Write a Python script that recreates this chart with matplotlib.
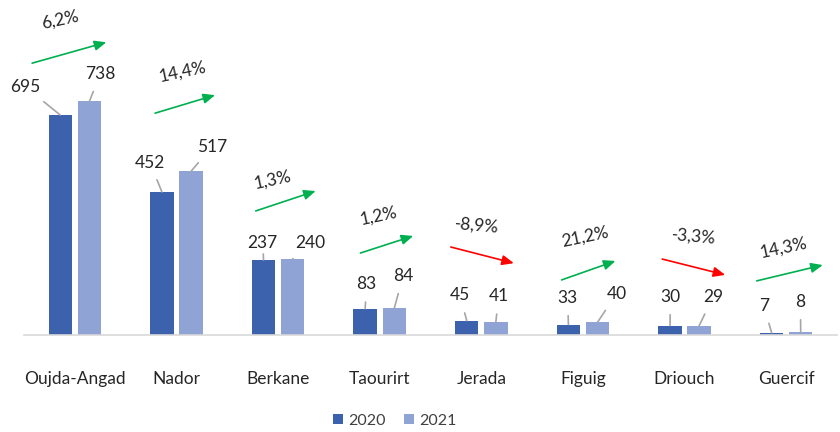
import matplotlib
matplotlib.use("Agg")
import matplotlib.pyplot as plt
import numpy as np

plt.rcParams['font.family'] = ['Lato', 'DejaVu Sans']

categories = ["Oujda-Angad", "Nador", "Berkane", "Taourirt", "Jerada", "Figuig", "Driouch", "Guercif"]
values_2020 = [695, 452, 237, 83, 45, 33, 30, 7]
values_2021 = [738, 517, 240, 84, 41, 40, 29, 8]
series_names = ["2020", "2021"]

# layout (offsets relative to group centre, in category / data units)
lbl20_off = [(-0.49, 785), (-0.26, 545), (-0.15, 290), (-0.13, 160), (-0.21, 125), (-0.15, 117), (-0.14, 120), (-0.22, 92)]
lbl21_off = [(0.25, 824), (0.35, 595), (0.32, 290), (0.23, 186), (0.17, 122), (0.33, 130), (0.28, 120), (0.14, 104)]
arrow_start = [(-0.42, 859), (-0.21, 701), (-0.22, 392), (-0.19, 259), (-0.30, 278), (-0.21, 174), (-0.22, 240), (-0.29, 171)]
arrow_end = [(0.31, 925), (0.38, 758), (0.37, 455), (0.33, 313), (0.32, 227), (0.32, 234), (0.40, 190), (0.36, 221)]
pct_pos = [(-0.15, 995), (0.06, 831), (-0.05, 490), (-0.01, 376), (-0.05, 347), (0.02, 310), (0.09, 310), (-0.03, 275)]

c20 = "#3C62AD"
c21 = "#8FA3D5"
txtc = "#262626"

fig = plt.figure(figsize=(8.4, 4.32), dpi=100)
ax = fig.add_axes([24/840, (432-335)/432, (837-24)/840, 325/432])
x = np.arange(len(categories))
w = 0.23
off = 0.143
ax.bar(x - off, values_2020, w, color=c20, label=series_names[0], zorder=2)
ax.bar(x + off, values_2021, w, color=c21, label=series_names[1], zorder=2)
ax.set_xlim(-0.5, len(categories) - 0.5)
ax.set_ylim(0, 1027)

for s in ["top", "right", "left"]:
    ax.spines[s].set_visible(False)
ax.spines["bottom"].set_color("#D9D9D9")
ax.spines["bottom"].set_linewidth(1.2)
ax.set_yticks([])
ax.set_xticks(x)
ax.set_xticklabels(categories, fontsize=12.5, color=txtc)
ax.tick_params(axis="x", length=0, pad=26)

for i in range(len(categories)):
    for vals, offs, sgn in ((values_2020, lbl20_off, -1), (values_2021, lbl21_off, 1)):
        bx = i + sgn * off
        v = vals[i]
        tx, ty = i + offs[i][0], offs[i][1]
        ax.annotate(str(v), xy=(bx, v), xytext=(tx, ty), ha="center", va="center",
                    fontsize=12.5, color=txtc,
                    arrowprops=dict(arrowstyle="-", color="#A6A6A6", lw=1.2,
                                    shrinkA=5, shrinkB=0))
    pct = (values_2021[i] / values_2020[i] - 1) * 100
    color = "#00B050" if pct >= 0 else "#FF0000"
    sx, sy = arrow_start[i]
    ex, ey = arrow_end[i]
    ax.annotate("", xy=(i + ex, ey), xytext=(i + sx, sy),
                arrowprops=dict(arrowstyle="-|>,head_length=0.7,head_width=0.3", color=color, lw=1.2,
                                shrinkA=0, shrinkB=0))
    txt = f"{pct:.1f}%".replace(".", ",")
    rot = 12 if pct >= 0 else -5
    px, py = pct_pos[i]
    ax.text(i + px, py, txt, ha="center", va="center", fontsize=12.5, color=txtc, rotation=rot)

leg = fig.legend(loc="center", bbox_to_anchor=(0.47, (432-421)/432), ncol=2, frameon=False,
                 fontsize=11.5, handlelength=0.6, handleheight=0.6, handletextpad=0.3, columnspacing=1.2)
for t in leg.get_texts():
    t.set_color("#404040")

fig.savefig("out.png", dpi=100, facecolor="white")
